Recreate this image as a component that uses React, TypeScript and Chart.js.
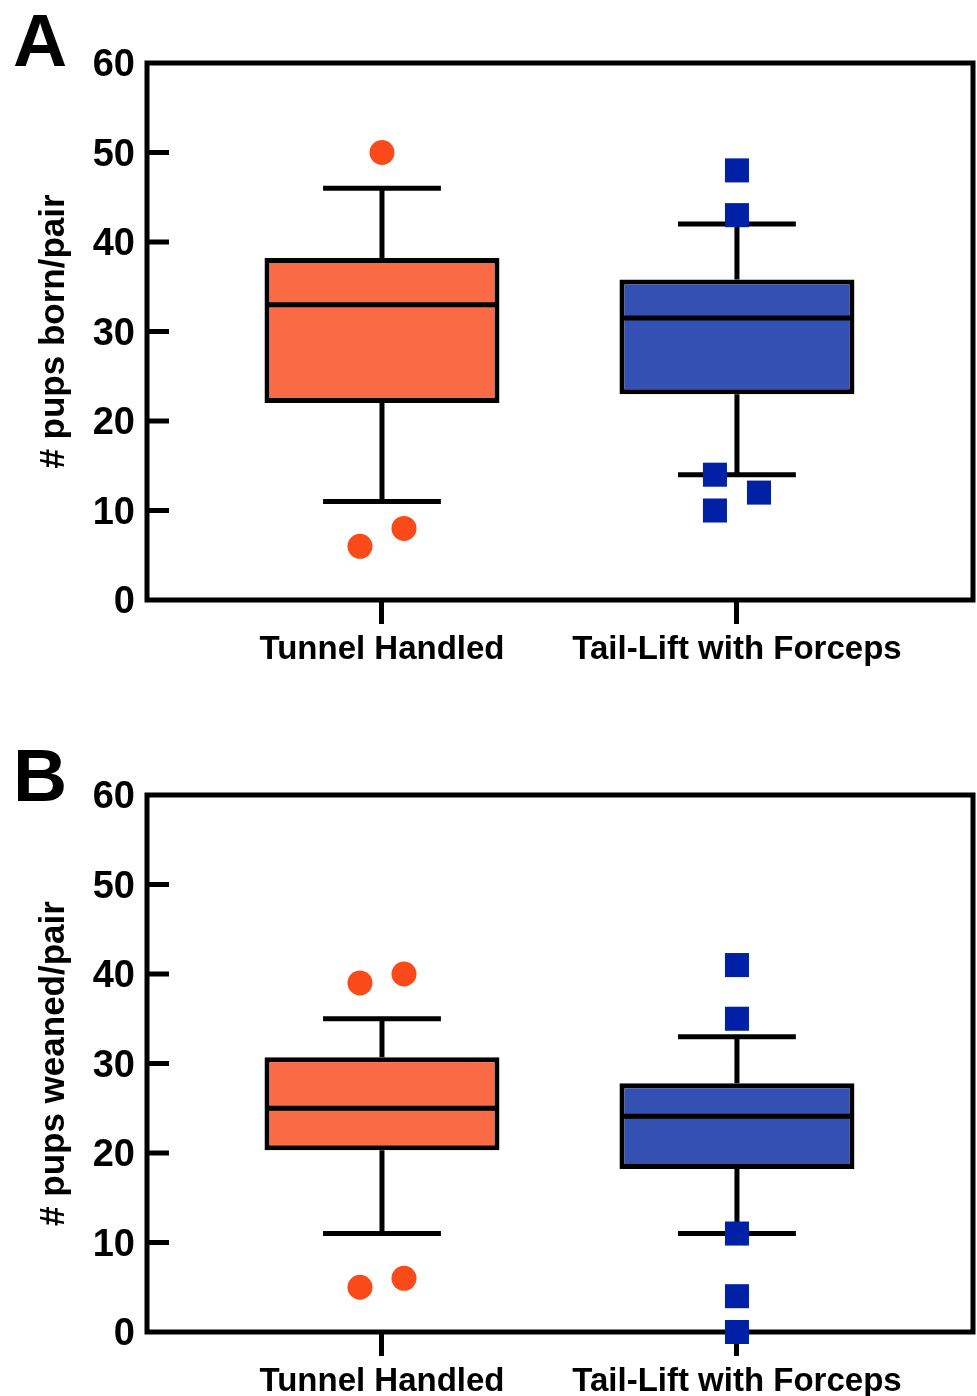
import React, { useEffect, useRef } from "react";
import { Chart, registerables } from "chart.js";

Chart.register(...registerables);

// ---------- data ----------
const categories = ["Tunnel Handled", "Tail-Lift with Forceps"];
const yTickStep = 10;
const yMin = 0;
const yMax = 60;

// Panel A: # pups born/pair
const bornWhiskerLow = [11, 14];
const bornQ1 = [22.0, 23.0];
const bornMedian = [33, 31.5];
const bornQ3 = [38.2, 35.8];
const bornWhiskerHigh = [46, 42];
const bornOutliersTunnel = [50, 6, 8];
const bornOutliersTunnelSide = [0, -1, 1];
const bornOutliersTail = [48, 43, 14, 10, 12];
const bornOutliersTailSide = [0, 0, -1, -1, 1];

// Panel B: # pups weaned/pair
const weanedWhiskerLow = [11, 11];
const weanedQ1 = [20.3, 18.2];
const weanedMedian = [25, 24.1];
const weanedQ3 = [30.7, 27.8];
const weanedWhiskerHigh = [35, 33];
const weanedOutliersTunnel = [40, 39, 6, 5];
const weanedOutliersTunnelSide = [1, -1, 1, -1];
const weanedOutliersTail = [41, 35, 11, 4, 0];
const weanedOutliersTailSide = [0, 0, 0, 0, 0];

// ---------- styles ----------
const FONT = "'Liberation Sans', Arial, Helvetica, sans-serif";
const BOX_FILL = ["#F96A45", "#3350B2"];
const POINT_FILL = ["#FA4A1A", "#0021A5"];
const LINE_W = 5;
const X_MIN = -0.662;
const X_MAX = 1.665;
const CAP_HALF = 0.166;
const MED_HALF = 0.328;
const JITTER = 0.062;

type Spec = {
  letter: string;
  title: string;
  lo: number[];
  q1: number[];
  med: number[];
  q3: number[];
  hi: number[];
  out: number[][];
  side: number[][];
};

const specA: Spec = {
  letter: "A",
  title: "# pups born/pair",
  lo: bornWhiskerLow,
  q1: bornQ1,
  med: bornMedian,
  q3: bornQ3,
  hi: bornWhiskerHigh,
  out: [bornOutliersTunnel, bornOutliersTail],
  side: [bornOutliersTunnelSide, bornOutliersTailSide],
};

const specB: Spec = {
  letter: "B",
  title: "# pups weaned/pair",
  lo: weanedWhiskerLow,
  q1: weanedQ1,
  med: weanedMedian,
  q3: weanedQ3,
  hi: weanedWhiskerHigh,
  out: [weanedOutliersTunnel, weanedOutliersTail],
  side: [weanedOutliersTunnelSide, weanedOutliersTailSide],
};

function buildConfig(spec: Spec, canvasHeight: number): any {
  const PLOT_TOP = 63;
  const PLOT_BOTTOM = 600;
  const boxData = categories.map((_, i) => ({ x: i, y: [spec.q1[i], spec.q3[i]] }));
  const lineData: any[] = [];
  categories.forEach((_, i) => {
    const gap = { x: i, y: null };
    lineData.push(
      { x: i, y: spec.q3[i] }, { x: i, y: spec.hi[i] }, gap,
      { x: i - CAP_HALF, y: spec.hi[i] }, { x: i + CAP_HALF, y: spec.hi[i] }, gap,
      { x: i, y: spec.q1[i] }, { x: i, y: spec.lo[i] }, gap,
      { x: i - CAP_HALF, y: spec.lo[i] }, { x: i + CAP_HALF, y: spec.lo[i] }, gap,
      { x: i - MED_HALF, y: spec.med[i] }, { x: i + MED_HALF, y: spec.med[i] }, gap
    );
  });

  const outlierSets = categories.map((_, i) => ({
    type: "scatter",
    data: spec.out[i].map((v, k) => ({ x: i + spec.side[i][k] * JITTER, y: v })),
    backgroundColor: POINT_FILL[i],
    borderWidth: 0,
    pointStyle: i === 0 ? "circle" : "rect",
    pointRadius: i === 0 ? 12.5 : 17,
    pointHoverRadius: i === 0 ? 12.5 : 17,
    clip: false,
    order: 1,
  }));

  const framePlugin = {
    id: "frame",
    beforeDatasetsDraw(chart: any) {
      const { ctx, chartArea } = chart;
      const y = chart.scales.y;
      ctx.save();
      ctx.strokeStyle = "#000";
      ctx.lineWidth = LINE_W;
      ctx.lineCap = "square";
      ctx.strokeRect(chartArea.left, chartArea.top, chartArea.right - chartArea.left, chartArea.bottom - chartArea.top);
      ctx.lineCap = "butt";
      y.ticks.forEach((t: any) => {
        if (t.value <= yMin || t.value >= yMax) return;
        const py = y.getPixelForValue(t.value);
        ctx.beginPath();
        ctx.moveTo(chartArea.left, py);
        ctx.lineTo(chartArea.left + 22, py);
        ctx.stroke();
      });
      ctx.restore();
    },
    afterDraw(chart: any) {
      const { ctx } = chart;
      ctx.save();
      ctx.fillStyle = "#000";
      ctx.font = `bold 75px ${FONT}`;
      ctx.textBaseline = "alphabetic";
      ctx.textAlign = "left";
      ctx.fillText(spec.letter, 13, spec.letter === "A" ? 66 : 69);
      ctx.restore();
    },
  };

  return {
    type: "bar",
    data: {
      datasets: [
        ...outlierSets,
        {
          type: "line",
          data: lineData,
          borderColor: "#000",
          borderWidth: LINE_W,
          pointRadius: 0,
          pointHoverRadius: 0,
          spanGaps: false,
          tension: 0,
          borderCapStyle: "butt",
          order: 2,
        },
        {
          type: "bar",
          data: boxData,
          backgroundColor: BOX_FILL,
          borderColor: "#000",
          borderWidth: LINE_W,
          borderSkipped: false,
          barPercentage: 0.662,
          categoryPercentage: 1,
          order: 3,
        },
      ],
    },
    options: {
      animation: false,
      responsive: false,
      devicePixelRatio: 1,
      events: [],
      layout: { autoPadding: false, padding: { top: PLOT_TOP, right: 4, left: 0, bottom: 0 } },
      plugins: { legend: { display: false }, tooltip: { enabled: false } },
      scales: {
        x: {
          type: "linear",
          min: X_MIN,
          max: X_MAX,
          offset: false,
          afterBuildTicks: (s: any) => {
            s.ticks = categories.map((_, i) => ({ value: i }));
          },
          afterFit: (s: any) => {
            s.height = canvasHeight - PLOT_BOTTOM;
            s.paddingLeft = 0;
            s.paddingRight = 0;
          },
          grid: {
            display: true,
            offset: false,
            drawOnChartArea: false,
            drawTicks: true,
            tickLength: 24,
            tickWidth: LINE_W,
            tickColor: "#000",
            color: "#000",
            lineWidth: LINE_W,
          },
          border: { display: false },
          ticks: {
            callback: (v: any) => categories[v] ?? "",
            font: { family: FONT, size: 33, weight: "bold" },
            color: "#000",
            padding: 6,
            maxRotation: 0,
            autoSkip: false,
          },
        },
        y: {
          type: "linear",
          min: yMin,
          max: yMax,
          afterFit: (s: any) => {
            s.width = 147;
          },
          grid: { display: false, drawTicks: false },
          border: { display: false },
          ticks: {
            stepSize: yTickStep,
            font: { family: FONT, size: 38, weight: "bold" },
            color: "#000",
            padding: 12,
            labelOffset: 3,
          },
          title: {
            display: true,
            text: spec.title,
            font: { family: FONT, size: 35, weight: "bold" },
            color: "#000",
            padding: { top: 33, bottom: 0 },
          },
        },
      },
    },
    plugins: [framePlugin],
  };
}

function Panel({ spec, top, height }: { spec: Spec; top: number; height: number }) {
  const ref = useRef<HTMLCanvasElement>(null);
  useEffect(() => {
    const chart = new Chart(ref.current as HTMLCanvasElement, buildConfig(spec, height));
    return () => chart.destroy();
  }, [spec, height]);
  return (
    <canvas
      ref={ref}
      width={977}
      height={height}
      style={{ position: "absolute", left: 0, top, width: 977, height, display: "block" }}
    />
  );
}

export default function App() {
  return (
    <div
      style={{
        position: "absolute",
        left: 0,
        top: 0,
        width: 977,
        height: 1396,
        background: "#fff",
        overflow: "hidden",
      }}
    >
      <Panel spec={specA} top={0} height={732} />
      <Panel spec={specB} top={732} height={664} />
    </div>
  );
}
